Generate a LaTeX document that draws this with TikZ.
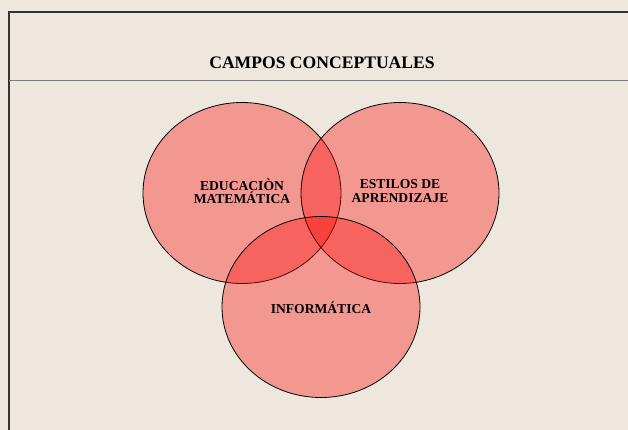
\documentclass[tikz,border=0pt]{standalone}
\usepackage{fontspec}
\setmainfont{Liberation Serif}
\usetikzlibrary{positioning,shapes.geometric}
\definecolor{paper}{RGB}{237,231,221}
\definecolor{frameline}{RGB}{51,51,51}
\definecolor{ruleline}{RGB}{125,125,125}

\begin{document}
\begin{tikzpicture}[x=1pt, y=-1pt,
  campo/.style={ellipse, draw=black, line width=0.8pt, fill=red, fill opacity=0.34, minimum width=198pt, minimum height=181pt, inner sep=0pt},
  etiqueta/.style={font=\bfseries\fontsize{13.6}{13.5}\selectfont, align=center, text=black}]
\useasboundingbox (0,0) rectangle (628,430);
\fill[paper] (0,0) rectangle (628,430);
% marco y titulo
\draw[frameline, line width=1.2pt] (9,430) -- (9,12) -- (628,12);
\draw[ruleline, line width=1pt] (9,81) -- (628,81);
\node[font=\bfseries\fontsize{17.6}{20}\selectfont] (titulo) at (322,63) {CAMPOS CONCEPTUALES};

\node[campo] (edu) at (242,193) {};
\node[campo] (est) at (400,193) {};
\node[campo] (inf) at (321,307) {};

\node[etiqueta] (eduTxt) at (242,191) {EDUCACIÒN\\MATEMÁTICA};
\node[etiqueta] (estTxt) at (400,191) {ESTILOS DE\\APRENDIZAJE};
\node[etiqueta] (infTxt) at (321,308) {INFORMÁTICA};
\end{tikzpicture}
\end{document}
